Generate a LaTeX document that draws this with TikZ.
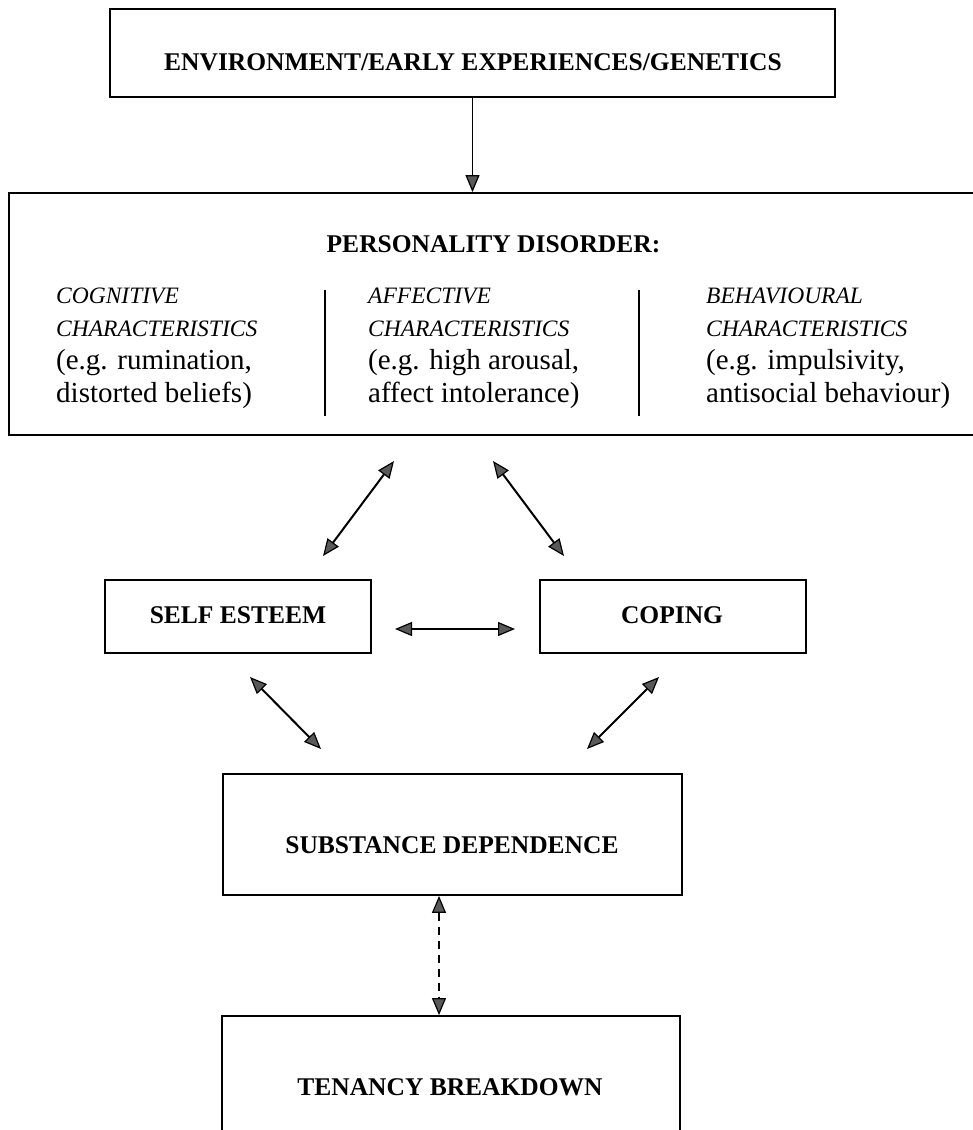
\documentclass[tikz,border=0pt]{standalone}
\usepackage{fontspec}
\setmainfont{Liberation Serif}
\usetikzlibrary{arrows.meta}
\begin{document}
\begin{tikzpicture}[x=1pt,y=-1pt,
  >={Triangle[length=17pt,width=14pt,fill=black!65,line width=1.2pt]},
  box/.style={draw=black,line width=1.8pt,rectangle,inner sep=0pt},
  hd/.style={font=\fontsize{25.5}{30}\selectfont\bfseries,inner sep=0pt,anchor=base},
  ic/.style={font=\fontsize{23.5}{30}\selectfont\itshape,inner sep=0pt,anchor=base west},
  rg/.style={font=\fontsize{29}{33}\selectfont,inner sep=0pt,anchor=base west},
  conn/.style={line width=2pt,<->},
  divider/.style={line width=1.5pt}]
\useasboundingbox (0,0) rectangle (973,1130);
\fill[white] (0,0) rectangle (973,1130);
\clip (0,0) rectangle (973,1130);

% boxes
\node[box,minimum width=725pt,minimum height=88pt] (top) at (472.5,53) {};
\node[box,minimum width=981pt,minimum height=242pt] (pd) at (499.5,314) {};
\node[box,minimum width=266pt,minimum height=73pt] (se) at (238,616.5) {};
\node[box,minimum width=266pt,minimum height=73pt] (co) at (673,616.5) {};
\node[box,minimum width=459pt,minimum height=121pt] (sd) at (452.5,834.5) {};
\node[box,minimum width=458pt,minimum height=134pt] (ten) at (451,1083) {};

% texts
\node[hd] (toptxt) at (473,70) {ENVIRONMENT/EARLY EXPERIENCES/GENETICS};
\node[hd] (pdtxt) at (493.5,252) {PERSONALITY DISORDER:};
\node[hd] (setxt) at (238,623) {SELF ESTEEM};
\node[hd] (cotxt) at (672,623) {COPING};
\node[hd] (sdtxt) at (452,853) {SUBSTANCE DEPENDENCE};
\node[hd] (tentxt) at (450,1095) {TENANCY BREAKDOWN};

\node[ic] (c1a) at (56,303) {COGNITIVE};
\node[ic] (c1b) at (56,336) {CHARACTERISTICS};
\node[rg] (c1c) at (56,369) {(e.g. rumination,};
\node[rg] (c1d) at (56,402) {distorted beliefs)};

\node[ic] (c2a) at (368,303) {AFFECTIVE};
\node[ic] (c2b) at (368,336) {CHARACTERISTICS};
\node[rg] (c2c) at (368,369) {(e.g. high arousal,};
\node[rg] (c2d) at (368,402) {affect intolerance)};

\node[ic] (c3a) at (706,303) {BEHAVIOURAL};
\node[ic] (c3b) at (706,336) {CHARACTERISTICS};
\node[rg] (c3c) at (706,369) {(e.g. impulsivity,};
\node[rg] (c3d) at (706,402) {antisocial behaviour)};

% column dividers
\draw[divider] (325,290) -- (325,416);
\draw[divider] (639,290) -- (639,416);

% connector end points
\coordinate (a1) at (394,461);
\coordinate (a2) at (323,556);
\coordinate (b1) at (493,461);
\coordinate (b2) at (564,556);
\coordinate (h1) at (395,629);
\coordinate (h2) at (515,629);
\coordinate (d1) at (250,677);
\coordinate (d2) at (321,749);
\coordinate (e1) at (659,677);
\coordinate (e2) at (587,749);
\coordinate (dx) at (439,0);

% connectors
\draw[line width=1.8pt,->] (top.south) -- (top.south |- pd.north);
\draw[conn] (a1) -- (a2);
\draw[conn] (b1) -- (b2);
\draw[conn] (h1) -- (h2);
\draw[conn] (d1) -- (d2);
\draw[conn] (e1) -- (e2);
\draw[line width=1.6pt,<->,dash pattern=on 8pt off 6pt] (sd.south -| dx) -- (ten.north -| dx);
\end{tikzpicture}
\end{document}
